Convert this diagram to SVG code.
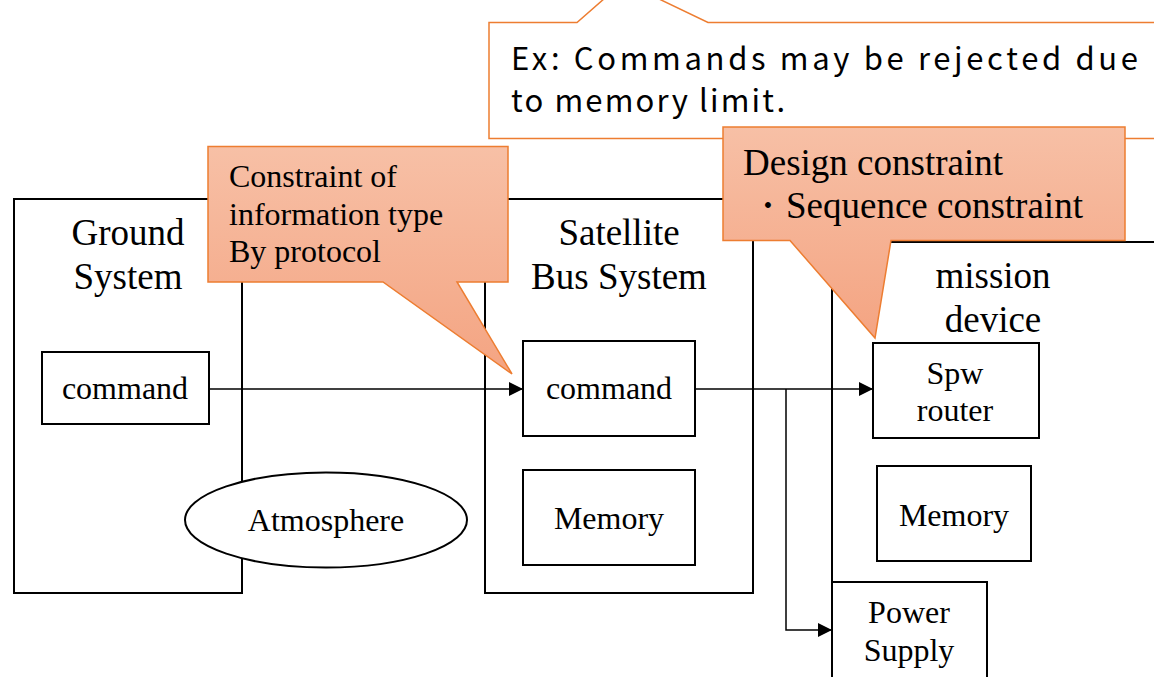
<svg xmlns="http://www.w3.org/2000/svg" width="1154" height="677" viewBox="0 0 1154 677">
<style>
.box{fill:#fff;stroke:#000;stroke-width:2}
.t{font-family:"Liberation Serif","Times New Roman",serif;fill:#000}
.big{font-size:37px}
.mid{font-size:32px}
.conn{fill:none;stroke:#000;stroke-width:1.5}
.call{stroke:#ED7D31;stroke-width:1.5}
.jp{font-family:"Noto Sans CJK JP","Noto Sans",sans-serif;font-size:31px;fill:#000}
</style>
<defs>
<linearGradient id="sal" x1="0" y1="0" x2="0" y2="1">
<stop offset="0" stop-color="#F7C0A6"/>
<stop offset="1" stop-color="#F4A482"/>
</linearGradient>
<marker id="ah2" viewBox="0 0 14 14" refX="14" refY="7" markerWidth="14" markerHeight="14" markerUnits="userSpaceOnUse" orient="auto">
<path d="M0,0 L14,7 L0,14 z" fill="#000"/>
</marker>
</defs>
<rect width="1154" height="677" fill="#fff"/>

<g id="ground-system">
<rect class="box" x="14" y="199" width="228" height="394"/>
<text class="t big" x="128" y="245" text-anchor="middle">Ground</text>
<text class="t big" x="128" y="289" text-anchor="middle">System</text>
</g>
<g id="ground-command">
<rect class="box" x="42" y="352" width="167" height="72"/>
<text class="t mid" x="125" y="399" text-anchor="middle">command</text>
</g>
<g id="atmosphere">
<ellipse cx="326" cy="520" rx="141" ry="47.5" fill="#fff" stroke="#000" stroke-width="2"/>
<text class="t mid" x="326" y="531" text-anchor="middle">Atmosphere</text>
</g>

<g id="satellite-bus">
<rect class="box" x="485" y="199" width="268" height="394"/>
<text class="t big" x="619" y="245" text-anchor="middle">Satellite</text>
<text class="t big" x="619" y="289" text-anchor="middle">Bus System</text>
</g>
<g id="bus-command">
<rect class="box" x="523" y="341" width="172" height="95"/>
<text class="t mid" x="609" y="399" text-anchor="middle">command</text>
</g>
<g id="bus-memory">
<rect class="box" x="523" y="470" width="172" height="95"/>
<text class="t mid" x="609" y="529" text-anchor="middle">Memory</text>
</g>

<g id="mission-device">
<rect class="box" x="832" y="242" width="330" height="450"/>
<text class="t big" x="993" y="288" text-anchor="middle">mission</text>
<text class="t big" x="993" y="332" text-anchor="middle">device</text>
</g>
<g id="spw-router">
<rect class="box" x="873" y="343" width="166" height="95"/>
<text class="t mid" x="955" y="384" text-anchor="middle">Spw</text>
<text class="t mid" x="955" y="421" text-anchor="middle">router</text>
</g>
<g id="mission-memory">
<rect class="box" x="877" y="466" width="154" height="95"/>
<text class="t mid" x="954" y="526" text-anchor="middle">Memory</text>
</g>
<g id="power-supply">
<rect class="box" x="832" y="582" width="155" height="110"/>
<text class="t mid" x="909" y="623" text-anchor="middle">Power</text>
<text class="t mid" x="909" y="661" text-anchor="middle">Supply</text>
</g>

<g id="connectors">
<path class="conn" d="M209,389 H523" marker-end="url(#ah2)"/>
<path class="conn" d="M695,389 H873" marker-end="url(#ah2)"/>
<path class="conn" d="M786,389 V630 H832" marker-end="url(#ah2)"/>
</g>

<g id="callout-example">
<path class="call" fill="#fff" d="M489,22.5 H577 L605,-2 L657,-2 L708,22.5 H1160 V138.5 H489 Z"/>
<text class="jp" x="511" y="70" textLength="627" lengthAdjust="spacing">Ex:  Commands may be rejected due</text>
<text class="jp" x="511" y="112" textLength="274" lengthAdjust="spacing">to memory limit.</text>
</g>

<g id="callout-protocol">
<path class="call" fill="url(#sal)" d="M208,146.5 H508 V282 H457 L512,374 L383,282 H208 Z"/>
<text class="t mid" x="229" y="187">Constraint of</text>
<text class="t mid" x="229" y="225">information type</text>
<text class="t mid" x="229" y="262">By protocol</text>
</g>

<g id="callout-design">
<path class="call" fill="url(#sal)" d="M723,127 H1125 V240.5 H891 L875,338 L790,240.5 H723 Z"/>
<text class="t big" x="743" y="175">Design constraint</text>
<text class="t big" x="749" y="218">・Sequence constraint</text>
</g>
</svg>
